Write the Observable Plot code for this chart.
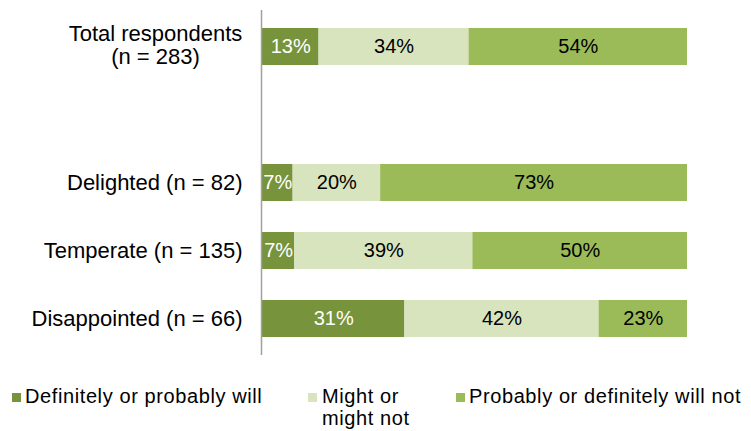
<!DOCTYPE html>
<html>
<head>
<meta charset="utf-8">
<script src="https://cdn.jsdelivr.net/npm/d3@7"></script>
<script src="https://cdn.jsdelivr.net/npm/@observablehq/plot@0.6"></script>
<style>
  html, body { margin: 0; padding: 0; background: #fff; }
  body { width: 751px; height: 431px; overflow: hidden; font-family: "Liberation Sans", Arial, sans-serif; }
  #legend { position: relative; width: 751px; height: 66px; font-size: 20px; letter-spacing: 0.6px; color: #000; }
  .sw { position: absolute; width: 9px; height: 9px; top: 28px; }
  .lt { position: absolute; top: 20px; line-height: 22px; white-space: nowrap; }
</style>
</head>
<body>
<div id="chart"></div>
<div id="legend"></div>
<script>
// Categories (rows, top to bottom); "" is the empty spacer row
const categories = ["Total respondents\n(n = 283)", "", "Delighted (n = 82)", "Temperate (n = 135)", "Disappointed (n = 66)"];
const rows = ["Total respondents\n(n = 283)", "Delighted (n = 82)", "Temperate (n = 135)", "Disappointed (n = 66)"];

// Series names
const seriesNames = ["Definitely or probably will", "Might or\nmight not", "Probably or definitely will not"];
const seriesColors = ["#77933C", "#D7E4BD", "#9BBB59"];

// Bar shares as drawn (percent of bar length)
const willValues    = [13.3, 7.2, 7.6, 33.5];
const mightValues   = [35.3, 20.6, 41.9, 45.7];
const willNotValues = [51.4, 72.2, 50.5, 20.8];

// Printed labels (percent)
const willLabels    = [13, 7, 7, 31];
const mightLabels   = [34, 20, 39, 42];
const willNotLabels = [54, 73, 50, 23];

const valueSets = [willValues, mightValues, willNotValues];
const labelSets = [willLabels, mightLabels, willNotLabels];

const data = [];
seriesNames.forEach((s, si) => {
  rows.forEach((r, ri) => {
    data.push({row: r, series: s, si, value: valueSets[si][ri], label: labelSets[si][ri] + "%"});
  });
});

const font = "Liberation Sans, Arial, sans-serif";

const chart = Plot.plot({
  width: 751,
  height: 365,
  marginLeft: 262,
  marginRight: 64,
  marginTop: 10,
  marginBottom: 10,
  style: {fontFamily: font, fontSize: "20px", background: "#fff"},
  x: {domain: [0, 100], axis: null},
  y: {domain: categories, axis: null, paddingInner: 0.46, paddingOuter: 0.24},
  color: {domain: seriesNames, range: seriesColors},
  marks: [
    Plot.barX(data, Plot.stackX({x: "value", y: "row", fill: "series", order: "si", inset: 0})),
    Plot.text(data, Plot.stackX({
      x: "value", y: "row", z: "series", order: "si",
      text: d => d.si === 0 ? d.label : "", fill: "white", fontSize: 20, letterSpacing: 0.6
    })),
    Plot.text(data, Plot.stackX({
      x: "value", y: "row", z: "series", order: "si",
      text: d => d.si !== 0 ? d.label : "", fill: "black", fontSize: 20, letterSpacing: 0.6
    })),
    Plot.ruleX([0], {stroke: "#a0a0a0", strokeWidth: 1.5, dx: -1}),
    Plot.text(rows.slice(1), {
      y: d => d, frameAnchor: "left", textAnchor: "end", dx: -20,
      text: d => d, fill: "black", fontSize: 22, letterSpacing: 0.6
    }),
    Plot.text(rows.slice(0, 1), {
      y: d => d, frameAnchor: "left", textAnchor: "middle", dx: -107, dy: -2,
      lineHeight: 1.05, text: d => d, fill: "black", fontSize: 22, letterSpacing: 0.6
    })
  ]
});
document.getElementById("chart").appendChild(chart);

// Legend
const legend = document.getElementById("legend");
const swX = [12, 308, 456];
const txX = [25, 322, 469];
seriesNames.forEach((s, i) => {
  const sw = document.createElement("div");
  sw.className = "sw";
  sw.style.left = swX[i] + "px";
  sw.style.background = seriesColors[i];
  legend.appendChild(sw);
  const t = document.createElement("div");
  t.className = "lt";
  t.style.left = txX[i] + "px";
  t.innerHTML = s.split("\n").join("<br>");
  legend.appendChild(t);
});
</script>
</body>
</html>
